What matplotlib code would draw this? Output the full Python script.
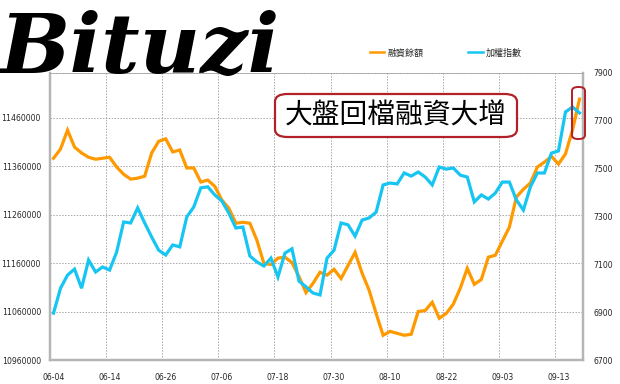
import matplotlib
matplotlib.use("Agg")
import matplotlib.pyplot as plt
from matplotlib.lines import Line2D
from matplotlib.patches import FancyBboxPatch
import numpy as np

plt.rcParams['font.family'] = ['DejaVu Sans', 'Noto Sans CJK TC']

dates = [
    "06-04", "06-05", "06-06", "06-07", "06-08", "06-11", "06-12", "06-13", "06-14", "06-15",
    "06-18", "06-19", "06-20", "06-21", "06-22", "06-25", "06-26", "06-27", "06-28", "06-29",
    "07-02", "07-03", "07-04", "07-05", "07-06", "07-09", "07-10", "07-11", "07-12", "07-13",
    "07-16", "07-17", "07-18", "07-19", "07-20", "07-23", "07-24", "07-25", "07-26", "07-27",
    "07-30", "07-31", "08-01", "08-03", "08-06", "08-07", "08-08", "08-09", "08-10", "08-13",
    "08-14", "08-15", "08-16", "08-17", "08-20", "08-21", "08-22", "08-23", "08-24", "08-27",
    "08-28", "08-29", "08-30", "08-31", "09-03", "09-04", "09-05", "09-06", "09-07", "09-10",
    "09-11", "09-12", "09-13", "09-14", "09-17", "09-18",
]

# 融資餘額 (left axis)
margin = [
    11376000, 11395000, 11434000, 11399000, 11387000, 11378000, 11374000, 11376000, 11378000, 11358000,
    11343000, 11333000, 11335000, 11339000, 11387000, 11411000, 11416000, 11389000, 11393000, 11356000,
    11356000, 11327000, 11331000, 11318000, 11290000, 11273000, 11242000, 11244000, 11242000, 11207000,
    11159000, 11157000, 11170000, 11172000, 11161000, 11132000, 11099000, 11118000, 11141000, 11135000,
    11147000, 11128000, 11155000, 11182000, 11139000, 11104000, 11056000, 11011000, 11019000, 11015000,
    11011000, 11013000, 11060000, 11062000, 11079000, 11046000, 11056000, 11075000, 11108000, 11149000,
    11116000, 11126000, 11172000, 11176000, 11205000, 11234000, 11296000, 11312000, 11325000, 11358000,
    11368000, 11380000, 11364000, 11385000, 11434000, 11498000,
]

# 加權指數 (right axis)
index = [
    6896, 7000, 7055, 7080, 7000, 7118, 7068, 7089, 7076, 7151,
    7277, 7273, 7336, 7273, 7214, 7159, 7139, 7181, 7173, 7298,
    7340, 7420, 7424, 7390, 7365, 7314, 7252, 7256, 7135, 7110,
    7093, 7126, 7047, 7147, 7165, 7030, 7006, 6980, 6972, 7126,
    7159, 7273, 7265, 7218, 7285, 7294, 7318, 7432, 7440, 7436,
    7482, 7469, 7486, 7465, 7432, 7507, 7498, 7503, 7473, 7465,
    7361, 7390, 7373, 7398, 7444, 7444, 7369, 7327, 7424, 7482,
    7482, 7565, 7574, 7737, 7758, 7733,
]

orange = "#ff9900"
blue = "#17c5f2"
grid_c = "#a8a8a8"
text_c = "#262626"

fig = plt.figure(figsize=(6.2, 3.84), dpi=100)
ax = fig.add_axes([50 / 620, 1 - 360 / 384, 533 / 620, 287 / 384])
ax2 = ax.twinx()

x = np.arange(len(dates))
ax.plot(x, margin, color=orange, lw=2.3, solid_joinstyle="miter", zorder=3)
ax2.plot(x, index, color=blue, lw=2.3, solid_joinstyle="miter", zorder=3)

ax.set_xlim(-0.5, len(dates) - 0.5)
ax.set_ylim(10960000, 11551800)
ax2.set_ylim(6700, 7900)

ax.set_yticks(np.arange(10960000, 11500000, 100000))
ax.set_yticklabels([str(v) for v in range(10960000, 11500000, 100000)])
ax2.set_yticks(np.arange(6700, 7901, 200))
ax.set_xticks(x[::8])
ax.set_xticklabels(dates[::8])
ax.set_xticks(np.arange(7.5, len(dates) - 1, 8), minor=True)

ax.grid(axis="y", which="major", color=grid_c, ls=(0, (1.5, 1.5)), lw=0.7)
ax.grid(axis="x", which="minor", color=grid_c, ls=(0, (1.5, 1.5)), lw=0.7)

for a in (ax, ax2):
    a.tick_params(length=0, labelsize=5.6, labelcolor=text_c, which="both")
    for s in ("left", "right", "bottom"):
        a.spines[s].set_color("#b5b5b5")
        a.spines[s].set_linewidth(1.6)
    a.spines["top"].set_color(grid_c)
    a.spines["top"].set_linestyle((0, (1.5, 1.5)))
    a.spines["top"].set_linewidth(0.7)
ax.tick_params(axis="y", pad=6.5)
ax2.tick_params(axis="y", pad=7.5)
ax.tick_params(axis="x", pad=9)

# logo
fig.text(0.0, 0.87, "Bituzi", fontsize=60, fontweight="bold", fontstyle="italic",
         family="DejaVu Serif", color="black", va="center", ha="left")

# legend
handles = [Line2D([], [], color=orange, lw=1.8), Line2D([], [], color=blue, lw=1.8)]
fig.legend(handles, ["融資餘額", "加權指數"], loc="center", bbox_to_anchor=(446 / 620, 1 - 53 / 384),
           ncol=2, frameon=False, fontsize=6.5, handlelength=1.6, handletextpad=0.4,
           columnspacing=4.9, labelcolor=text_c)

# annotation box
fig.add_artist(FancyBboxPatch((275 / 620, 1 - 137 / 384), 242 / 620, 43 / 384,
                              boxstyle="round,pad=0,rounding_size=0.02", transform=fig.transFigure,
                              facecolor="white", edgecolor="#b22028", lw=1.6, zorder=5))
fig.text(396 / 620, 1 - 116 / 384, "大盤回檔融資大增", fontsize=20, family="Noto Sans CJK TC",
         color="black", ha="center", va="center", zorder=6)

# highlight box
fig.add_artist(FancyBboxPatch((572 / 620, 1 - 139 / 384), 13 / 620, 52 / 384,
                              boxstyle="round,pad=0,rounding_size=0.01", transform=fig.transFigure,
                              facecolor="none", edgecolor="#b22028", lw=1.4, zorder=5))

fig.savefig("out.png", dpi=100)
